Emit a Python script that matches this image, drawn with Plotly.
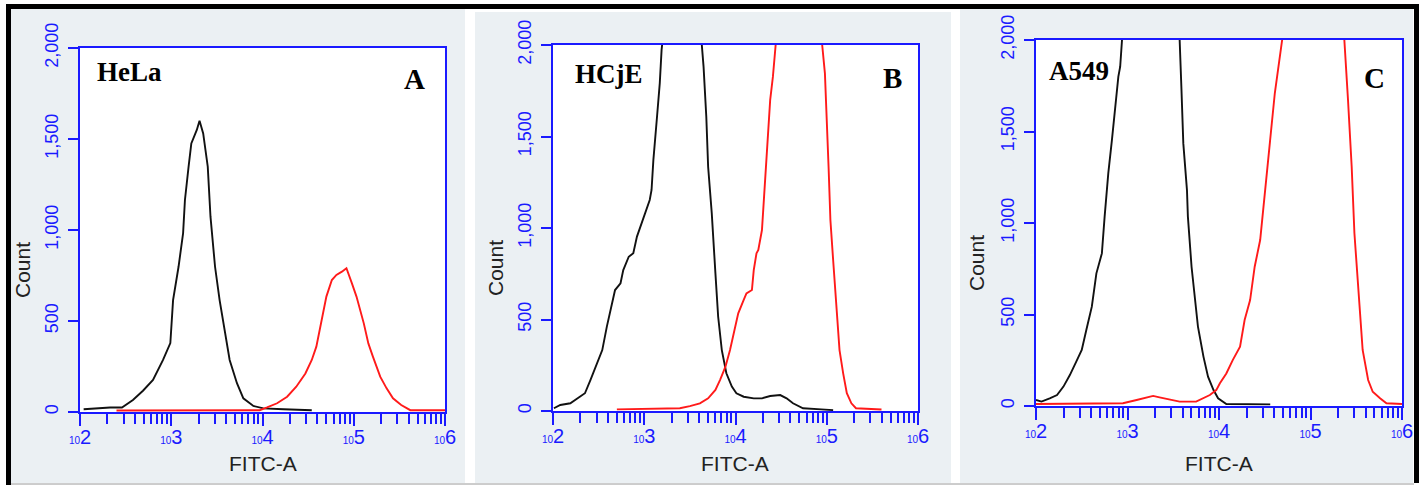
import plotly.graph_objects as go

W, H = 1421, 485
BLUE = "#1a1aff"

# log10(FITC-A) positions and counts
hela_ctrl_log = [2.04, 2.33, 2.46, 2.58, 2.69, 2.80, 2.91, 2.99, 3.02, 3.08, 3.13, 3.15, 3.19, 3.22,
                 3.28, 3.31, 3.35, 3.40, 3.43, 3.48, 3.53, 3.59, 3.64, 3.72, 3.79, 3.90, 4.01, 4.23, 4.54]
hela_ctrl_cnt = [15, 25, 25, 66, 117, 176, 286, 379, 615, 798, 983, 1165, 1348, 1476,
                 1550, 1600, 1531, 1348, 1073, 798, 615, 432, 286, 158, 75, 33, 20, 15, 10]
hela_stain_log = [2.40, 3.97, 4.05, 4.16, 4.27, 4.37, 4.47, 4.54, 4.59, 4.65, 4.70, 4.76, 4.81, 4.87,
                  4.92, 4.98, 5.03, 5.11, 5.16, 5.21, 5.29, 5.36, 5.43, 5.52, 5.62, 6.00]
hela_stain_cnt = [8, 10, 25, 48, 84, 139, 212, 286, 359, 505, 634, 725, 753, 771,
                  790, 707, 634, 487, 377, 304, 194, 130, 75, 38, 10, 10]

hcje_ctrl_log = [2.01, 2.08, 2.19, 2.30, 2.35, 2.41, 2.48, 2.54, 2.59, 2.65, 2.68, 2.74, 2.77, 2.83,
                 2.88, 2.92, 2.97, 3.01, 3.06, 3.08, 3.10, 3.14, 3.17, 3.19, 3.30, 3.42, 3.55, 3.65,
                 3.68, 3.70, 3.74, 3.78, 3.81, 3.85, 3.90, 3.96, 4.01, 4.09, 4.20, 4.29, 4.38, 4.49,
                 4.56, 4.63, 4.74, 4.94, 5.07]
hcje_ctrl_cnt = [15, 33, 42, 78, 97, 169, 260, 333, 461, 607, 661, 698, 770, 843,
                 862, 953, 1025, 1080, 1153, 1208, 1372, 1608, 1790, 1973, 2500, 2800, 2500, 1882,
                 1608, 1335, 1080, 752, 515, 333, 206, 133, 97, 78, 69, 69, 82, 87,
                 69, 42, 15, 9, 5]
hcje_stain_log = [2.70, 3.39, 3.50, 3.61, 3.70, 3.78, 3.83, 3.89, 3.94, 3.98, 4.03, 4.09, 4.12, 4.18,
                  4.20, 4.23, 4.25, 4.29, 4.31, 4.34, 4.38, 4.41, 4.44, 4.70, 4.95, 4.98, 5.02, 5.04,
                  5.07, 5.11, 5.14, 5.18, 5.22, 5.27, 5.32, 5.60]
hcje_stain_cnt = [9, 15, 27, 42, 69, 115, 169, 242, 333, 424, 534, 607, 643, 661,
                  770, 862, 880, 989, 1153, 1426, 1699, 1827, 2000, 3500, 2000, 1845, 1335, 1044,
                  825, 515, 333, 206, 97, 42, 15, 8]

a549_ctrl_log = [2.00, 2.06, 2.15, 2.23, 2.30, 2.37, 2.44, 2.50, 2.55, 2.61, 2.66, 2.72, 2.75, 2.79,
                 2.83, 2.86, 2.90, 2.92, 2.94, 3.25, 3.57, 3.59, 3.61, 3.65, 3.66, 3.70, 3.74, 3.77,
                 3.83, 3.88, 3.94, 3.99, 4.08, 4.56]
a549_ctrl_cnt = [33, 24, 42, 60, 106, 169, 242, 306, 415, 543, 725, 834, 1035, 1271,
                 1454, 1618, 1800, 1854, 2000, 3300, 2000, 1727, 1435, 1180, 1035, 761, 579, 434,
                 270, 160, 87, 42, 11, 9]
a549_stain_log = [2.00, 2.70, 2.95, 3.10, 3.17, 3.28, 3.35, 3.46, 3.57, 3.75, 3.83, 3.90, 3.97, 4.01,
                  4.08, 4.15, 4.23, 4.28, 4.34, 4.39, 4.45, 4.50, 4.54, 4.57, 4.61, 4.65, 4.69, 5.03,
                  5.37, 5.41, 5.45, 5.48, 5.53, 5.57, 5.63, 5.68, 5.76, 5.83, 6.00]
a549_stain_cnt = [11, 11, 15, 33, 42, 55, 47, 36, 24, 24, 42, 60, 87, 124,
                  178, 251, 324, 470, 579, 761, 907, 1162, 1362, 1526, 1709, 1854, 2000, 3600,
                  2000, 1672, 1308, 944, 579, 306, 142, 78, 42, 15, 11]

cell_lines = ["HeLa", "HCjE", "A549"]
panel_letters = ["A", "B", "C"]
y_ticks = [0, 500, 1000, 1500, 2000]
x_decades = [2, 3, 4, 5, 6]

panels = [
    dict(ctrl=(hela_ctrl_log, hela_ctrl_cnt), stain=(hela_stain_log, hela_stain_cnt),
         box=(80, 445, 48, 412), bg=(11, 465, 9, 483), name_xy=(95, 72), letter_xy=(414, 79), count_xy=(22, 270)),
    dict(ctrl=(hcje_ctrl_log, hcje_ctrl_cnt), stain=(hcje_stain_log, hcje_stain_cnt),
         box=(553, 918, 45, 411), bg=(475, 951, 12, 483), name_xy=(573, 74), letter_xy=(892, 78), count_xy=(495, 268)),
    dict(ctrl=(a549_ctrl_log, a549_ctrl_cnt), stain=(a549_stain_log, a549_stain_cnt),
         box=(1036, 1402, 40, 406), bg=(960, 1413, 9, 483), name_xy=(1047, 71), letter_xy=(1374, 78), count_xy=(976, 263)),
]


def fx(p):
    return p / W


def fy(p):
    return 1 - p / H


major_vals = [10 ** d for d in x_decades]
major_text = ["<span style='font-size:10px'>10</span>%d" % d for d in x_decades]
minor_vals = [m * 10 ** d for d in x_decades[:-1] for m in range(2, 10)]

fig = go.Figure()
shapes = []
annotations = []
layout = {}

for i, p in enumerate(panels):
    n = "" if i == 0 else str(i + 1)
    x0, x1, yt, yb = p["box"]
    bx0, bx1, byt, byb = p["bg"]

    for (lx, cnt), col in [(p["ctrl"], "#111111"), (p["stain"], "#ff1a1a")]:
        fig.add_trace(go.Scatter(x=[10 ** v for v in lx], y=cnt, mode="lines",
                                 line=dict(color=col, width=1.9),
                                 xaxis="x" + n, yaxis="y" + n, hoverinfo="skip", showlegend=False))

    layout["xaxis" + n] = dict(
        domain=[fx(x0), fx(x1)], anchor="y" + n, type="log", range=[2, 6],
        showgrid=False, zeroline=False, showline=True, mirror=True,
        linecolor=BLUE, linewidth=2, automargin=False,
        ticks="outside", ticklen=12, tickwidth=2, tickcolor=BLUE,
        tickmode="array", tickvals=major_vals, ticktext=major_text, ticklabelstandoff=-6,
        tickfont=dict(family="Liberation Sans", size=20, color=BLUE),
        minor=dict(tickmode="array", tickvals=minor_vals, ticks="outside",
                   ticklen=10, tickwidth=2, tickcolor=BLUE),
    )
    layout["yaxis" + n] = dict(
        domain=[fy(yb), fy(yt)], anchor="x" + n, range=[0, 2000],
        showgrid=False, zeroline=False, showline=True, mirror=True,
        linecolor=BLUE, linewidth=2, automargin=False,
        ticks="outside", ticklen=10, tickwidth=2, tickcolor=BLUE,
        tickvals=y_ticks, tickformat=",d", tickangle=-90, ticklabelstandoff=3,
        tickfont=dict(family="Liberation Sans", size=18, color=BLUE),
    )

    # grey panel behind each plot, white plotting area on top of it
    shapes.append(dict(type="rect", xref="paper", yref="paper", layer="below",
                       x0=fx(bx0), x1=fx(bx1), y0=fy(byb), y1=fy(byt),
                       fillcolor="#ebf0f3", line_width=0))
    shapes.append(dict(type="rect", xref="paper", yref="paper", layer="below",
                       x0=fx(x0), x1=fx(x1), y0=fy(yb), y1=fy(yt),
                       fillcolor="white", line_width=0))

    annotations.append(dict(text="FITC-A", xref="paper", yref="paper",
                            x=fx((x0 + x1) / 2), y=fy(463), xanchor="center", yanchor="middle",
                            showarrow=False,
                            font=dict(family="Liberation Sans", size=21, color="#222222")))
    annotations.append(dict(text="Count", xref="paper", yref="paper", textangle=-90,
                            x=fx(p["count_xy"][0]), y=fy(p["count_xy"][1]),
                            xanchor="center", yanchor="middle", showarrow=False,
                            font=dict(family="Liberation Sans", size=21, color="#222222")))
    annotations.append(dict(text="<b>%s</b>" % cell_lines[i], xref="paper", yref="paper",
                            x=fx(p["name_xy"][0]), y=fy(p["name_xy"][1]),
                            xanchor="left", yanchor="middle", showarrow=False,
                            font=dict(family="Liberation Serif", size=27, color="black")))
    annotations.append(dict(text="<b>%s</b>" % panel_letters[i], xref="paper", yref="paper",
                            x=fx(p["letter_xy"][0]), y=fy(p["letter_xy"][1]),
                            xanchor="center", yanchor="middle", showarrow=False,
                            font=dict(family="Liberation Serif", size=29, color="black")))

# black frame (top, left, right) and the thin grey bottom edge
shapes.append(dict(type="rect", xref="paper", yref="paper", x0=fx(6), x1=fx(1419), y0=fy(9), y1=fy(4),
                   fillcolor="black", line_width=0))
shapes.append(dict(type="rect", xref="paper", yref="paper", x0=fx(6), x1=fx(11), y0=0, y1=fy(4),
                   fillcolor="black", line_width=0))
shapes.append(dict(type="rect", xref="paper", yref="paper", x0=fx(1414), x1=fx(1419), y0=fy(483), y1=fy(4),
                   fillcolor="black", line_width=0))
shapes.append(dict(type="line", xref="paper", yref="paper", x0=fx(11), x1=fx(1414), y0=fy(484), y1=fy(484),
                   line=dict(color="#9a9a9a", width=1)))

fig.update_layout(
    width=W, height=H, margin=dict(l=0, r=0, t=0, b=0, pad=0, autoexpand=False),
    paper_bgcolor="white", plot_bgcolor="white",
    shapes=shapes, annotations=annotations, **layout,
)

# page body has a default 8px margin; drop it so the figure sits at the window corner
fig.write_html("out.html", config={"displayModeBar": False},
               post_script="document.body.style.margin='0';")
